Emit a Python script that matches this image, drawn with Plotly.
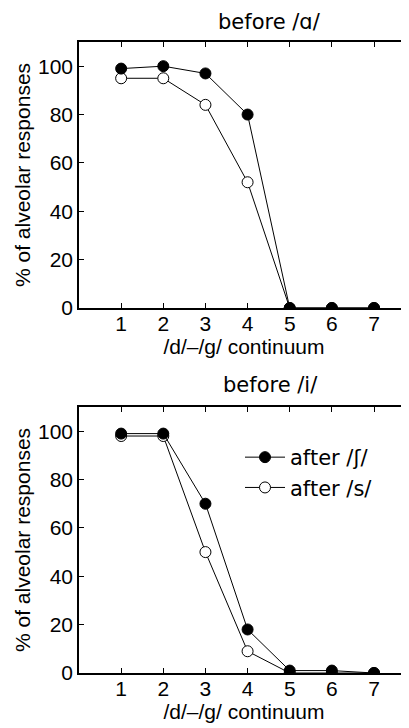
import plotly.graph_objects as go
from plotly.subplots import make_subplots

steps = [1, 2, 3, 4, 5, 6, 7]
a_after_sh = [99, 100, 97, 80, 0, 0, 0]
a_after_s = [95, 95, 84, 52, 0, 0, 0]
i_after_sh = [99, 99, 70, 18, 1, 1, 0]
i_after_s = [98, 98, 50, 9, 0, 0, 0]
panel_titles = ["before /ɑ/", "before /i/"]
name_sh = "after /ʃ/"
name_s = "after /s/"
x_title = "/d/–/g/ continuum"
y_title = "% of alveolar responses"
yticks = [0, 20, 40, 60, 80, 100]

OFF = 8  # default page body margin
W, H = 409 - OFF, 728 - OFF
L, R, T, B = 79 - OFF, 0, 42 - OFF, 55
PW, PH = W - L - R, H - T - B


def px_x(x):
    return (x - OFF - L) / PW


def px_y(y):
    return (H - B - (y - OFF)) / PH


fig = make_subplots(rows=2, cols=1, vertical_spacing=0.157)

line = dict(color="black", width=1)
for row, (sh, s) in enumerate([(a_after_sh, a_after_s), (i_after_sh, i_after_s)], start=1):
    fig.add_trace(go.Scatter(x=steps, y=s, mode="lines+markers", name=name_s,
                             line=line, legendrank=2, showlegend=(row == 2),
                             marker=dict(symbol="circle", size=11, color="white",
                                         line=dict(color="black", width=1))),
                  row=row, col=1)
    fig.add_trace(go.Scatter(x=steps, y=sh, mode="lines+markers", name=name_sh,
                             line=line, legendrank=1, showlegend=(row == 2),
                             marker=dict(symbol="circle", size=11, color="black",
                                         line=dict(color="black", width=1))),
                  row=row, col=1)

fig.update_layout(
    yaxis=dict(domain=[px_y(308), 1.0]),
    yaxis2=dict(domain=[0.0, px_y(407)]),
)

tickfont = dict(family="Liberation Sans, Arial", size=21, color="black")
for ax in ["xaxis", "xaxis2"]:
    fig.layout[ax].update(range=[0, 7.83], tickvals=steps, ticks="inside", ticklen=5,
                          tickcolor="black", showline=True, linecolor="black", linewidth=1.5,
                          mirror="allticks", showgrid=False, zeroline=False, tickfont=tickfont,
                          automargin=False, ticklabelstandoff=-4,
                          title=dict(text=x_title, font=tickfont, standoff=0))
for ax in ["yaxis", "yaxis2"]:
    fig.layout[ax].update(range=[0, 110], tickvals=yticks, ticks="inside", ticklen=5,
                          tickcolor="black", showline=True, linecolor="black", linewidth=1.5,
                          mirror=False, showgrid=False, zeroline=False, tickfont=tickfont,
                          automargin=False,
                          title=dict(text=y_title, font=tickfont, standoff=2))

title_font = dict(family="DejaVu Sans", size=21, color="black")
fig.add_annotation(text=panel_titles[0], xref="paper", yref="paper",
                   x=px_x(269), y=px_y(8),
                   showarrow=False, font=title_font, xanchor="center", yanchor="top")
fig.add_annotation(text=panel_titles[1], xref="paper", yref="paper",
                   x=px_x(270), y=px_y(371),
                   showarrow=False, font=title_font, xanchor="center", yanchor="top")

fig.update_layout(
    width=W, height=H, margin=dict(l=L, r=R, t=T, b=B, autoexpand=False),
    paper_bgcolor="white", plot_bgcolor="white",
    legend=dict(x=px_x(240), y=px_y(437),
                xanchor="left", yanchor="top", bgcolor="rgba(0,0,0,0)",
                font=dict(family="DejaVu Sans", size=21, color="black"),
                tracegroupgap=4, itemwidth=40),
    showlegend=True,
)

fig.write_html("out.html")
